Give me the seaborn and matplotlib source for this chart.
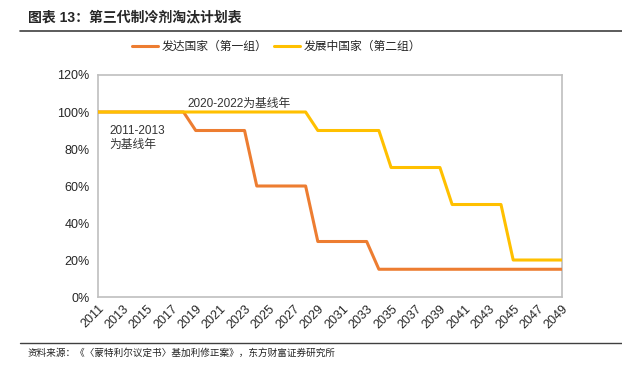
import numpy as np
import pandas as pd
import matplotlib
matplotlib.use("Agg")
import matplotlib.pyplot as plt
from matplotlib.colors import to_hex
from matplotlib.lines import Line2D
import seaborn as sns

years = list(range(2011, 2050))
developed = [100] * 8 + [90] * 5 + [60] * 5 + [30] * 5 + [15] * 16
developing = [100] * 18 + [90] * 6 + [70] * 5 + [50] * 5 + [20] * 5
series_names = ["发达国家（第一组）", "发展中国家（第二组）"]
series_colors = ["#ED7D31", "#FFC000"]
yticks = [0, 20, 40, 60, 80, 100, 120]
ytick_labels = ["0%", "20%", "40%", "60%", "80%", "100%", "120%"]

df1 = pd.DataFrame({"year": years, "value": developed})
df2 = pd.DataFrame({"year": years, "value": developing})

sns.set_style("white")
plt.rcParams["font.family"] = ["Liberation Sans", "Noto Sans CJK SC", "DejaVu Sans"]

fig = plt.figure(figsize=(6.22, 3.68), dpi=100)
ax = fig.add_axes([0.1576, 0.1929, 0.746, 0.6033])

sns.lineplot(data=df1, x="year", y="value", color=series_colors[0], linewidth=2.2, ax=ax)
sns.lineplot(data=df2, x="year", y="value", color=series_colors[1], linewidth=2.2, ax=ax)
# yellow on top where the two overlap
for ln in ax.lines:
    ln.set_zorder(5 if to_hex(ln.get_color()).lower() == series_colors[1].lower() else 4)

ax.set_xlim(2011, 2049)
ax.set_ylim(0, 120)
ax.set_xticks(years[::2])
ax.set_xticklabels([str(y) for y in years[::2]], rotation=45, ha="right",
                   rotation_mode="anchor", fontsize=9)
ax.set_yticks(yticks)
ax.set_yticklabels(ytick_labels, fontsize=9)
ax.set_xlabel("")
ax.set_ylabel("")
ax.tick_params(axis="both", length=3, color="#A6A6A6", pad=3)
ax.tick_params(axis="x", length=0, pad=4)
for s in ax.spines.values():
    s.set_color("#BFBFBF")
    s.set_linewidth(1.2)

ax.text(2018.3, 104.5, "2020-2022为基线年", fontsize=8.5, color="#333333", va="center")
ax.text(2011.9, 86, "2011-2013\n为基线年", fontsize=8.5, color="#333333",
        va="center", linespacing=1.25)

handles = [Line2D([0], [0], color=c, lw=2.2) for c in series_colors]
fig.legend(handles, series_names, loc="center", bbox_to_anchor=(0.445, 1 - 47 / 368),
           ncol=2, frameon=False, fontsize=8.5, handlelength=2.2, columnspacing=0.6,
           handletextpad=0.3)

fig.text(28 / 622, 1 - 17 / 368, "图表 13：第三代制冷剂淘汰计划表", fontsize=10,
         fontweight="bold", va="center", ha="left")
fig.add_artist(Line2D([20 / 622, 1], [1 - 31 / 368] * 2, color="#404040", lw=1.2))
fig.add_artist(Line2D([20 / 622, 1], [1 - 343 / 368] * 2, color="#404040", lw=1.0))
fig.text(28 / 622, 1 - 353 / 368, "资料来源：《〈蒙特利尔议定书〉基加利修正案》，东方财富证券研究所",
         fontsize=6.9, va="center", ha="left", color="#222222")

fig.savefig("out.png", dpi=100)
